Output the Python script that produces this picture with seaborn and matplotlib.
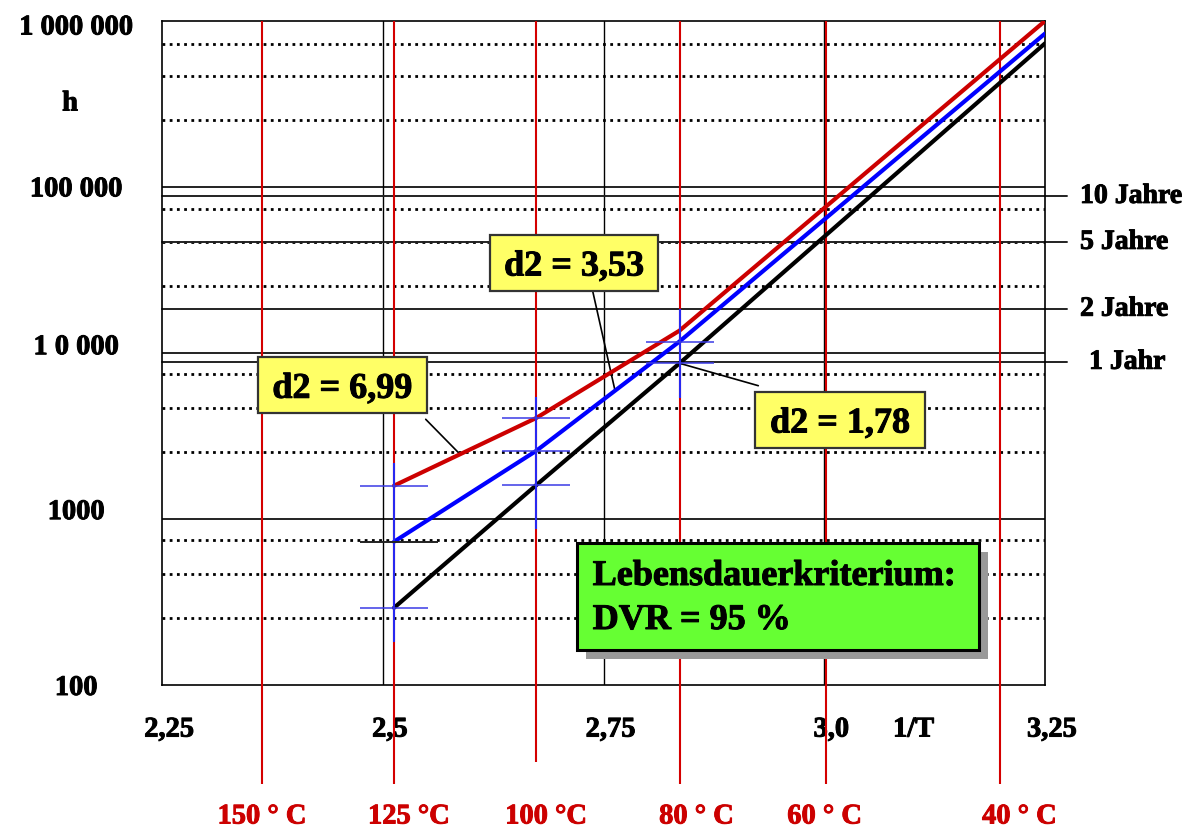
import numpy as np
import pandas as pd
import matplotlib
matplotlib.use("Agg")
import matplotlib.pyplot as plt
import matplotlib.patheffects as pe
import seaborn as sns
from matplotlib.patches import Rectangle
from matplotlib.transforms import ScaledTranslation

# Lebensdauer (h) ueber 1/T (1000/K): Punkte bei 125, 100, 80 °C und Achsende
inv_T = [2.5125, 2.6735, 2.836, 3.25]
life_red = [1580, 4040, 13600, 1000000]
life_blue = [726, 2560, 11700, 840000]
life_black = [290, 1590, 8640, 733000]

# Streubalken bei den Pruef-Temperaturen
bar_x = [2.5125, 2.6735, 2.836]
bar_lo = [181, 862, 5350]
bar_hi = [2170, 5410, 18260]
bar_caps = [[1580, 290], [4040, 2560, 1590], [11650, 8640]]
cap_black_125 = 726

temp_labels = ["150 ° C", "125 °C", "100 °C", "80 ° C", "60 ° C", "40 ° C"]
temp_x = [2.363, 2.5125, 2.6735, 2.836, 3.0015, 3.1995]

year_labels = ["10 Jahre", "5 Jahre", "2 Jahre", "1 Jahr"]
year_hours = [87600, 46300, 18300, 8760]

decade_lines = [1000, 10000, 100000]
dotted_lines = [253, 466, 740, 2530, 4660, 7400, 25300, 46600, 74000,
                252000, 464000, 724000]

xticks = [2.25, 2.5, 2.75, 3.0, 3.25]
xtick_labels = ["2,25", "2,5", "2,75", "3,0", "3,25"]
yticks = [100, 1000, 10000, 100000, 1000000]
ytick_labels = ["100", "1000", "1 0 000", "100 000", "1 000 000"]

d2_labels = ["d2 = 6,99", "d2 = 3,53", "d2 = 1,78"]

W, H = 1197, 832
RED = "#CC0000"


def fat(c):
    return [pe.withStroke(linewidth=0.7, foreground=c)]


FONT = dict(family="Liberation Serif", weight="bold", color="black", path_effects=fat("black"))

sns.set_style("white")
plt.rcParams["font.family"] = "Liberation Serif"
plt.rcParams["font.weight"] = "bold"
plt.rcParams["text.color"] = "black"

fig = plt.figure(figsize=(W / 100, H / 100), dpi=100)
ax = fig.add_axes([162.3 / W, 1 - 684.5 / H, 882.7 / W, 663.5 / H])
ax.set_yscale("log")
ax.set_xlim(2.25, 3.25)
ax.set_ylim(100, 1000000)

# Gitter
for v in dotted_lines:
    ax.axhline(v, color="black", lw=2.0, linestyle=(0, (1, 1.6)), zorder=1)
for v in decade_lines:
    ax.axhline(v, color="#222222", lw=1.4, zorder=2)
for v in [2.5, 2.75, 3.0]:
    ax.axvline(v, color="black", lw=1.0, zorder=2)
for v, lab in zip(year_hours, year_labels):
    ax.axhline(v, xmin=0, xmax=1.025, color="#222222", lw=1.4, clip_on=False, zorder=2)
    xl = 1.0499 if lab == "1 Jahr" else 1.0397
    ax.text(xl, v, lab, transform=ax.get_yaxis_transform(), ha="left", va="center",
            fontsize=20, **FONT)

# Temperaturlinien
line_ends = [-0.15, -0.15, -0.1167, -0.15, -0.15, -0.15]
label_shift = [0, 15, 10, 17, -1, 19]
for x, lab, end, sh in zip(temp_x, temp_labels, line_ends, label_shift):
    ax.vlines(x, end, 1.0, transform=ax.get_xaxis_transform(), color="#D40000",
              lw=1.5, clip_on=False, zorder=3)
    tr = ax.get_xaxis_transform() + ScaledTranslation(sh / 100, 0, fig.dpi_scale_trans)
    ax.text(x, -0.1997, lab, transform=tr, ha="center", va="center", fontsize=20.5,
            family="Liberation Serif", weight="bold", color=RED, path_effects=fat(RED))

# Kurven
df = pd.DataFrame({
    "x": inv_T * 3,
    "h": life_red + life_blue + life_black,
    "kurve": ["rot"] * 4 + ["blau"] * 4 + ["schwarz"] * 4,
})
sns.lineplot(data=df, x="x", y="h", hue="kurve", estimator=None, sort=False,
             palette={"rot": RED, "blau": "#0000FF", "schwarz": "black"},
             lw=3, legend=False, ax=ax, zorder=5)

# Streubalken
ax.vlines(bar_x, bar_lo, bar_hi, color="#2828F0", lw=1.5, zorder=6)
for x, caps in zip(bar_x, bar_caps):
    ax.hlines(caps, x - 0.0385, x + 0.0385, color="#3A3AE6", lw=1.1, zorder=6)
ax.hlines(cap_black_125, bar_x[0] - 0.0385, bar_x[0] + 0.05, color="#222222", lw=1.4, zorder=6)

ax.set_xlabel("")
ax.set_ylabel("")
ax.yaxis.set_minor_locator(matplotlib.ticker.NullLocator())
ax.set_xticks(xticks, xtick_labels)
ax.set_yticks(yticks, ytick_labels)
ax.tick_params(axis="x", length=0, pad=32.8, labelsize=20.5, labelcolor="black")
ax.tick_params(axis="y", length=0, pad=62, labelsize=20.5, labelcolor="black")
for lab in ax.get_xticklabels():
    lab.set_va("center")
    lab.set_fontweight("bold")
    lab.set_path_effects(fat("black"))
    lab.set_transform(lab.get_transform() + ScaledTranslation(0.07, 0, fig.dpi_scale_trans))
ylab_shift = [-1, 9, 8, 0, -4]
for lab, sh in zip(ax.get_yticklabels(), ylab_shift):
    lab.set_ha("center")
    lab.set_fontweight("bold")
    lab.set_path_effects(fat("black"))
    lab.set_transform(lab.get_transform() + ScaledTranslation(0, sh / 100, fig.dpi_scale_trans))
for sp in ax.spines.values():
    sp.set_color("black")
    sp.set_linewidth(1.2)

ax.text(0.8511, -0.0686, "1/T", transform=ax.transAxes, ha="center", va="center",
        fontsize=20.5, **FONT)
fig.text(70 / W, 1 - 104 / H, "h", ha="center", va="center", fontsize=20.5, **FONT)


def fig_rect(x0, y0, x1, y1, **kw):
    r = Rectangle((x0 / W, 1 - y1 / H), (x1 - x0) / W, (y1 - y0) / H,
                  transform=fig.transFigure, **kw)
    fig.add_artist(r)


# d2-Kaesten mit Zeigern
curves = [life_red, life_blue, life_black]
target_x = [2.5873, 2.7629, inv_T[2]]
boxes = [(257.7, 356.7, 426.7, 413.3), (490, 235, 658.3, 291), (755, 392, 925, 448)]
starts = [(425.7, 419.3), (591.7, 286.7), (758.3, 385.7)]
for lab, cv, tx, bx, st in zip(d2_labels, curves, target_x, boxes, starts):
    ty = 10 ** np.interp(tx, inv_T, np.log10(cv))
    ax.annotate("", xy=(tx, ty), xytext=(st[0], H - st[1]), textcoords="figure pixels",
                arrowprops=dict(arrowstyle="-", color="black", lw=1.2, shrinkA=0, shrinkB=0),
                annotation_clip=False)
    fig_rect(*bx, facecolor="#FFFF66", edgecolor="#333333", lw=1.6, zorder=8)
    fig.text((bx[0] + bx[2]) / 2 / W, 1 - (bx[3] - 15.5) / H, lab, ha="center",
             va="baseline", fontsize=26, zorder=9, **FONT)

# Lebensdauerkriterium
fig_rect(585.7, 551.7, 988.3, 659, facecolor="#999999", edgecolor="none", zorder=8)
fig_rect(576.7, 542.7, 979.3, 650, facecolor="#66FF33", edgecolor="black", lw=2.2, zorder=8)
fig.text(592.7 / W, 1 - 585 / H, "Lebensdauerkriterium:", ha="left", va="baseline",
         fontsize=26, zorder=9, **FONT)
fig.text(592.7 / W, 1 - 629 / H, "DVR = 95 %", ha="left", va="baseline",
         fontsize=26, zorder=9, **FONT)

fig.savefig("out.png", dpi=100)
